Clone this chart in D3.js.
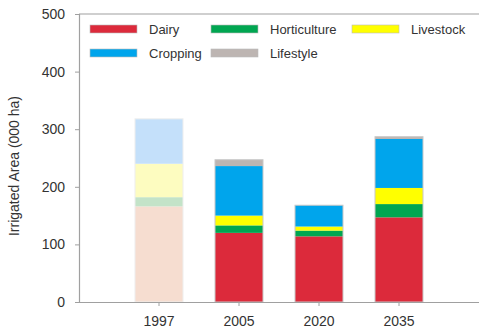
<!DOCTYPE html>
<html>
<head>
<meta charset="utf-8">
<script src="https://cdn.jsdelivr.net/npm/d3@7"></script>
<style>
  html, body { margin: 0; padding: 0; background: #fff; }
  #chart { width: 479px; height: 335px; }
  text { font-family: "Liberation Sans", Arial, sans-serif; fill: #333; }
</style>
</head>
<body>
<div id="chart"></div>
<script>
"use strict";

const years = ["1997", "2005", "2020", "2035"];
const categories = ["Dairy", "Horticulture", "Livestock", "Cropping", "Lifestyle"];

// values in 000 ha
const dairy = [166, 120, 114, 147];
const horticulture = [16, 13, 10, 23];
const livestock = [58, 17, 7, 28];
const cropping = [78, 86, 37, 85];
const lifestyle = [0, 11, 0, 4];

const yTicks = [0, 100, 200, 300, 400, 500];

const colors = {
  Dairy: "#dc2a3b",
  Horticulture: "#00a651",
  Livestock: "#ffff00",
  Cropping: "#00a5ec",
  Lifestyle: "#bdb5b2",
};

// 1997 is drawn washed out
const fadedColors = {
  Dairy: "#f6ddd0",
  Horticulture: "#c3e3c8",
  Livestock: "#fdfcc0",
  Cropping: "#c4e0fa",
  Lifestyle: "#e8e4e3",
};

window.addEventListener("load", function () {
  draw();
});

function buildRows() {
  const series = [dairy, horticulture, livestock, cropping, lifestyle];
  return years.map((y, i) => {
    let row = { year: y };
    categories.forEach((c, j) => {
      row[c] = series[j][i];
    });
    return row;
  });
}

function draw() {
  const w = 479;
  const h = 335;
  const margin = { top: 14, right: 0, bottom: 33, left: 79 };

  const svg = d3
    .select("#chart")
    .append("svg")
    .attr("width", w)
    .attr("height", h);

  // step of 80px, first bar starts ~56px right of the axis
  const x = d3
    .scaleBand()
    .domain(years)
    .range([margin.left, w])
    .paddingInner(0.4)
    .paddingOuter(0.7);

  const y = d3
    .scaleLinear()
    .domain([0, 500])
    .range([h - margin.bottom, margin.top]);

  const stacked = d3.stack().keys(categories)(buildRows());

  const layers = svg
    .selectAll("g.layer")
    .data(stacked)
    .enter()
    .append("g")
    .attr("class", "layer");

  layers
    .selectAll("rect")
    .data((d) => d.map((v) => ({ key: d.key, v: v })))
    .enter()
    .filter((d) => d.v[1] - d.v[0] > 0)
    .append("rect")
    .attr("x", (d) => x(d.v.data.year))
    .attr("y", (d) => y(d.v[1]))
    .attr("width", x.bandwidth())
    .attr("height", (d) => y(d.v[0]) - y(d.v[1]))
    .attr("fill", (d) =>
      d.v.data.year === "1997" ? fadedColors[d.key] : colors[d.key]
    );

  // thin outline round each bar
  svg
    .selectAll("rect.outline")
    .data(stacked[stacked.length - 1])
    .enter()
    .append("rect")
    .attr("class", "outline")
    .attr("x", (d) => x(d.data.year))
    .attr("y", (d) => y(d[1]))
    .attr("width", x.bandwidth())
    .attr("height", (d) => y(0) - y(d[1]))
    .attr("fill", "none")
    .attr("stroke", (d) => (d.data.year === "1997" ? "#eee" : "#c8c8c8"))
    .attr("stroke-width", 1);

  // frame top line
  svg
    .append("line")
    .attr("x1", margin.left)
    .attr("x2", w)
    .attr("y1", y(500))
    .attr("y2", y(500))
    .attr("stroke", "#a0a0a0")
    .attr("stroke-width", 1.2);

  const yAxis = svg
    .append("g")
    .attr("transform", `translate(${margin.left},0)`)
    .call(d3.axisLeft(y).tickValues(yTicks).tickSize(4).tickPadding(10));

  const xAxis = svg
    .append("g")
    .attr("transform", `translate(0,${y(0)})`)
    .call(d3.axisBottom(x).tickSize(4).tickPadding(10));

  // axis line runs across the whole plot
  xAxis.select(".domain").attr("d", `M${margin.left},0.5H${w}`);

  [xAxis, yAxis].forEach((a) => {
    a.select(".domain").attr("stroke", "#a0a0a0").attr("stroke-width", 1.2);
    a.selectAll(".tick line").attr("stroke", "#a0a0a0");
    a.selectAll(".tick text")
      .attr("font-size", "14px")
      .attr("fill", "#333")
      .attr("font-family", '"Liberation Sans", Arial, sans-serif');
  });

  svg
    .append("text")
    .attr("transform", `translate(19,${(y(0) + y(500)) / 2 + 8}) rotate(-90)`)
    .attr("text-anchor", "middle")
    .attr("font-size", "14px")
    .text("Irrigated Area (000 ha)");

  drawLegend(svg);
}

function drawLegend(svg) {
  const items = [
    { name: "Dairy", col: 0, row: 0 },
    { name: "Horticulture", col: 1, row: 0 },
    { name: "Livestock", col: 2, row: 0 },
    { name: "Cropping", col: 0, row: 1 },
    { name: "Lifestyle", col: 1, row: 1 },
  ];
  const colX = [90, 211, 352];
  const rowY = [25, 49];
  const swatchW = 47;
  const swatchH = 8;

  const legend = svg.append("g").attr("id", "legend");

  legend
    .selectAll("rect")
    .data(items)
    .enter()
    .append("rect")
    .attr("x", (d) => colX[d.col])
    .attr("y", (d) => rowY[d.row])
    .attr("width", swatchW)
    .attr("height", swatchH)
    .attr("fill", (d) => colors[d.name])
    .attr("stroke", "#bbb")
    .attr("stroke-width", 0.6);

  legend
    .selectAll("text")
    .data(items)
    .enter()
    .append("text")
    .attr("x", (d) => colX[d.col] + swatchW + 12)
    .attr("y", (d) => rowY[d.row] + swatchH / 2 + 5)
    .attr("font-size", "13px")
    .text((d) => d.name);
}
</script>
</body>
</html>
